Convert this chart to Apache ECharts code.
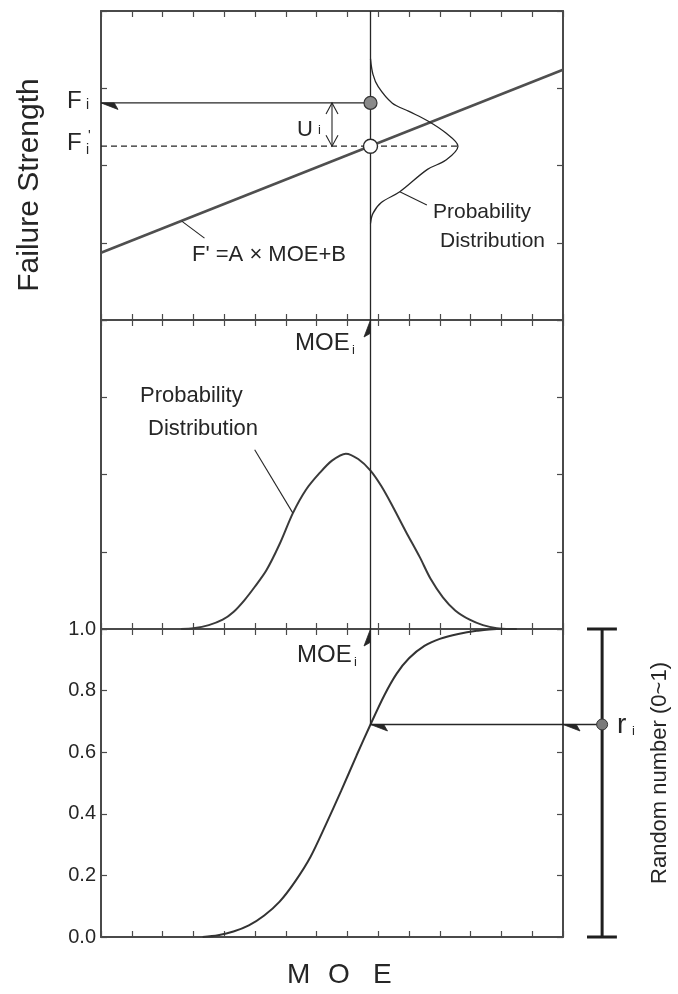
<!DOCTYPE html>
<html>
<head>
<meta charset="utf-8">
<script src="https://cdn.jsdelivr.net/npm/echarts@6/dist/echarts.min.js"></script>
<style>
  html, body { margin: 0; padding: 0; background: #ffffff; }
  #chart { width: 678px; height: 994px; }
</style>
</head>
<body>
<div id="chart"></div>
<script>
// ---- MOE axis, shared by the three stacked panels ----
const moeRange = [0, 15];
const moeStep = 1;
const moeI = 8.75;

// ---- Upper panel: failure strength vs MOE ----
const strengthRange = [0, 4];
const regressionLine = [[0, 0.87], [15, 3.24]];      // F' = A x MOE + B
const strengthFi = 2.81;                              // sampled strength F_i
const strengthFiPrime = 2.25;                         // regression estimate F_i'
const strengthPdfPeakX = 11.59;
const uArrowX = 7.5;
// scatter distribution of strength about F_i' (drawn sideways at MOE_i)
const strengthPdf = [
  [8.75, 3.38], [8.83, 3.18], [9.0, 3.02], [9.45, 2.81], [10.0, 2.70],
  [10.6, 2.58], [11.2, 2.42], [11.59, 2.25], [11.2, 2.07], [10.6, 1.95],
  [9.7, 1.66], [9.1, 1.52], [8.83, 1.38], [8.75, 1.25]
];
const regressionPointer = [[2.62, 1.28], [3.36, 1.06]];
const strengthPdfPointer = [[9.7, 1.66], [10.58, 1.49]];

// ---- Middle panel: probability density of MOE ----
const densityRange = [0, 4];
const moePdf = [
  [2.6, 0], [3.0, 0.01], [3.5, 0.05], [3.95, 0.12], [4.3, 0.22], [4.66, 0.375],
  [5.0, 0.55], [5.37, 0.76], [5.8, 1.10], [6.23, 1.50], [6.65, 1.80], [7.1, 2.02],
  [7.5, 2.18], [7.95, 2.27], [8.35, 2.20], [8.75, 2.05], [9.1, 1.85], [9.48, 1.58],
  [9.9, 1.26], [10.35, 0.93], [10.7, 0.65], [11.1, 0.41], [11.5, 0.24], [11.97, 0.12],
  [12.4, 0.05], [12.85, 0.01], [13.3, 0]
];
const moePdfPointer = [[4.99, 2.32], [6.23, 1.50]];

// ---- Lower panel: cumulative distribution of MOE ----
const cdfTicks = [0.0, 0.2, 0.4, 0.6, 0.8, 1.0];
const moeCdf = [
  [3.3, 0], [3.8, 0.006], [4.3, 0.018], [4.8, 0.038], [5.3, 0.07], [5.8, 0.115],
  [6.3, 0.18], [6.8, 0.26], [7.3, 0.365], [7.8, 0.475], [8.3, 0.59], [8.75, 0.69],
  [9.2, 0.785], [9.6, 0.855], [10.0, 0.905], [10.5, 0.945], [11.0, 0.968],
  [11.6, 0.984], [12.2, 0.994], [12.85, 1.0], [13.5, 1.0]
];
const randomR = 0.69;            // r_i drawn from (0~1)
const randomScaleX = 16.27;      // the random-number scale beside the panel
const randomScaleCaps = [15.78, 16.75];

// ---- styling ----
const FONT = '"Liberation Sans", Arial, Helvetica, sans-serif';
const INK = '#262626';
const FRAME = '#4a4a4a';

const grids = [
  { left: 101, top: 11, width: 462, height: 309 },
  { left: 101, top: 320, width: 462, height: 309 },
  { left: 101, top: 629, width: 462, height: 308 }
];
const yRanges = [
  { min: strengthRange[0], max: strengthRange[1], interval: 1 },
  { min: densityRange[0], max: densityRange[1], interval: 1 },
  { min: cdfTicks[0], max: cdfTicks[cdfTicks.length - 1], interval: 0.2 }
];

const xAxis = [], yAxis = [];
const lineOf = { show: true, onZero: false, lineStyle: { color: FRAME, width: 2 } };
const tickOf = { show: true, inside: true, length: 6, lineStyle: { color: FRAME, width: 1.2 } };
grids.forEach((g, i) => {
  ['bottom', 'top'].forEach(pos => xAxis.push({
    gridIndex: i, type: 'value', position: pos,
    min: moeRange[0], max: moeRange[1], interval: moeStep,
    axisLine: lineOf, axisTick: tickOf,
    axisLabel: { show: false }, splitLine: { show: false }
  }));
  ['left', 'right'].forEach(pos => yAxis.push(Object.assign({
    gridIndex: i, type: 'value', position: pos,
    axisLine: lineOf, axisTick: tickOf,
    axisLabel: {
      show: i === 2 && pos === 'left', margin: 5,
      formatter: v => v.toFixed(1), fontSize: 20, color: INK, fontFamily: FONT
    },
    splitLine: { show: false }
  }, yRanges[i])));
});

function curve(panel, data, style, extra) {
  return Object.assign({
    type: 'line', xAxisIndex: panel * 2, yAxisIndex: panel * 2,
    data: data, symbol: 'none', showSymbol: false, silent: true, clip: false,
    lineStyle: style, z: 3
  }, extra || {});
}

// Straight segments between data points, with an optional arrowhead:
//   'half'    - filled one-sided barb at the end point
//   'chevron' - open V heads at both ends
//   'none'    - plain segment
function segments(panel, segs, head, style) {
  const st = Object.assign({ stroke: INK, lineWidth: 1.3 }, style || {});
  return {
    type: 'custom', xAxisIndex: panel * 2, yAxisIndex: panel * 2,
    silent: true, clip: false, z: 4,
    data: segs.map(s => [s[0][0], s[0][1], s[1][0], s[1][1]]),
    encode: { x: [0, 2], y: [1, 3] },
    renderItem: (params, api) => {
      const a = api.coord([api.value(0), api.value(1)]);
      const b = api.coord([api.value(2), api.value(3)]);
      const len = Math.hypot(b[0] - a[0], b[1] - a[1]) || 1;
      const d = [(b[0] - a[0]) / len, (b[1] - a[1]) / len];
      const n = [d[1], -d[0]];
      const kids = [{
        type: 'line',
        shape: { x1: a[0], y1: a[1], x2: b[0], y2: b[1] },
        style: { stroke: st.stroke, lineWidth: st.lineWidth, fill: null }
      }];
      if (head === 'half') {
        const L = 17, W = 6.5;
        kids.push({
          type: 'polygon',
          shape: { points: [
            [b[0], b[1]],
            [b[0] - d[0] * L + n[0] * W, b[1] - d[1] * L + n[1] * W],
            [b[0] - d[0] * L * 0.78, b[1] - d[1] * L * 0.78]
          ] },
          style: { fill: st.stroke, stroke: st.stroke, lineWidth: 0.8 }
        });
      } else if (head === 'chevron') {
        const L = 11, W = 6;
        [[b, d], [a, [-d[0], -d[1]]]].forEach(([p, dir]) => {
          const nn = [dir[1], -dir[0]];
          kids.push({
            type: 'polyline',
            shape: { points: [
              [p[0] - dir[0] * L + nn[0] * W, p[1] - dir[1] * L + nn[1] * W],
              [p[0], p[1]],
              [p[0] - dir[0] * L - nn[0] * W, p[1] - dir[1] * L - nn[1] * W]
            ] },
            style: { stroke: st.stroke, lineWidth: 1.1, fill: null }
          });
        });
      }
      return { type: 'group', children: kids };
    }
  };
}

const thin = { color: INK, width: 1.3 };

const series = [
  // upper panel
  curve(0, regressionLine, { color: '#4f4f4f', width: 2.6 }),
  curve(0, [[moeI, strengthRange[0]], [moeI, strengthRange[1]]], thin),
  curve(0, strengthPdf, { color: INK, width: 1.3 }, { smooth: 0.35 }),
  curve(0, [[moeRange[0], strengthFiPrime], [strengthPdfPeakX, strengthFiPrime]],
        { color: INK, width: 1.2, type: [6, 4] }),
  curve(0, regressionPointer, { color: INK, width: 1.1 }),
  curve(0, strengthPdfPointer, { color: INK, width: 1.1 }),
  segments(0, [[[moeI, strengthFi], [moeRange[0], strengthFi]]], 'half'),
  segments(0, [[[uArrowX, strengthFi], [uArrowX, strengthFiPrime]]], 'chevron', { lineWidth: 1.1 }),
  {
    type: 'scatter', xAxisIndex: 0, yAxisIndex: 0, silent: true, clip: false, z: 6,
    data: [[moeI, strengthFi]], symbolSize: 13,
    itemStyle: { color: '#8a8a8a', borderColor: '#333', borderWidth: 1.2, opacity: 1 }
  },
  {
    type: 'scatter', xAxisIndex: 0, yAxisIndex: 0, silent: true, clip: false, z: 6,
    data: [[moeI, strengthFiPrime]], symbolSize: 14,
    itemStyle: { color: '#ffffff', borderColor: '#2a2a2a', borderWidth: 1.4, opacity: 1 }
  },

  // middle panel
  curve(1, moePdf, { color: '#3a3a3a', width: 2 }, { smooth: 0.3 }),
  curve(1, moePdfPointer, { color: INK, width: 1.1 }),
  segments(1, [[[moeI, densityRange[0]], [moeI, densityRange[1]]]], 'half'),

  // lower panel
  curve(2, moeCdf, { color: '#333333', width: 2 }, { smooth: 0.3 }),
  segments(2, [
    [[moeI, randomR], [moeI, cdfTicks[cdfTicks.length - 1]]],
    [[randomScaleX, randomR], [moeRange[1], randomR]],
    [[moeRange[1], randomR], [moeI, randomR]]
  ], 'half'),
  segments(2, [
    [[randomScaleX, cdfTicks[0]], [randomScaleX, cdfTicks[5]]],
    [[randomScaleCaps[0], cdfTicks[0]], [randomScaleCaps[1], cdfTicks[0]]],
    [[randomScaleCaps[0], cdfTicks[5]], [randomScaleCaps[1], cdfTicks[5]]]
  ], 'none', { stroke: '#1f1f1f', lineWidth: 3 }),
  {
    type: 'scatter', xAxisIndex: 4, yAxisIndex: 4, silent: true, clip: false, z: 6,
    data: [[randomScaleX, randomR]], symbolSize: 11,
    itemStyle: { color: '#7a7a7a', borderColor: '#333', borderWidth: 1, opacity: 1 }
  }
];

function txt(s, x, y, size, extra) {
  return Object.assign({
    type: 'text', silent: true, z: 10,
    style: Object.assign({
      text: s, x: x, y: y, fill: INK,
      font: size + 'px ' + FONT,
      align: 'left', verticalAlign: 'middle',
      textAlign: 'left', textVerticalAlign: 'middle'
    }, (extra && extra.style) || {})
  }, extra && extra.el ? extra.el : {});
}
const centered = { style: { align: 'center', textAlign: 'center' } };

const labels = [
  txt('Failure Strength', 30, 185, 30,
      { style: { align: 'center', textAlign: 'center' }, el: { rotation: Math.PI / 2 } }),
  txt('F', 67, 101, 24), txt('i', 86, 105, 14),
  txt('F', 67, 143, 24), txt("'", 88, 136, 14), txt('i', 86, 150, 14),
  txt('U', 297, 130, 22), txt('i', 318, 130, 13),
  txt("F' =A \u00d7 MOE+B", 192, 255, 22),
  txt('Probability', 433, 212, 21), txt('Distribution', 440, 241, 21),
  txt('MOE', 295, 343, 24), txt('i', 352, 350, 13),
  txt('Probability', 140, 396, 22), txt('Distribution', 148, 429, 22),
  txt('MOE', 297, 655, 24), txt('i', 354, 662, 13),
  txt('r', 617, 725, 28), txt('i', 632, 731, 13),
  txt('Random number (0~1)', 660, 773, 22,
      { style: { align: 'center', textAlign: 'center' }, el: { rotation: Math.PI / 2 } }),
  txt('M', 287, 975, 28), txt('O', 339, 975, 28, centered), txt('E', 373, 975, 28)
];
// rotated labels turn about their anchor point
labels.forEach(l => {
  if (l.rotation) {
    l.x = l.style.x; l.y = l.style.y;
    l.style.x = 0; l.style.y = 0;
  }
});

const chart = echarts.init(document.getElementById('chart'), null, { renderer: 'canvas' });
chart.setOption({
  animation: false,
  backgroundColor: '#ffffff',
  grid: grids,
  xAxis: xAxis,
  yAxis: yAxis,
  series: series,
  graphic: { elements: labels }
});
</script>
</body>
</html>
